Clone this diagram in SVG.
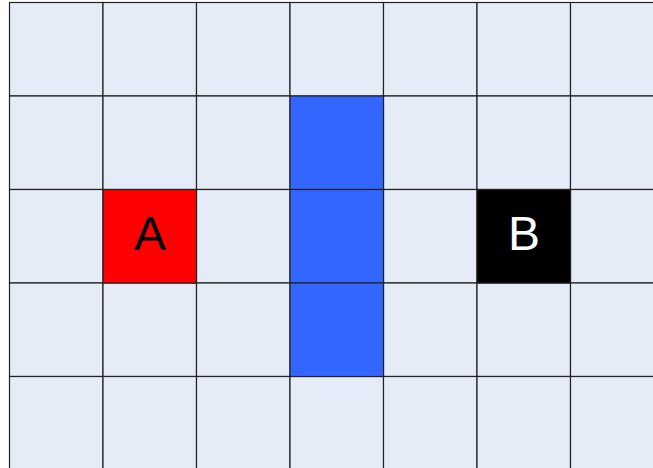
<svg xmlns="http://www.w3.org/2000/svg" width="653" height="468" viewBox="0 0 653 468">
<style>
.c{fill:#E6ECF7;stroke:#222;stroke-width:1.2}
.lbl{font-family:"Liberation Sans",Arial,sans-serif;font-size:48px;text-anchor:middle}
</style>
<rect width="653" height="468" fill="#fff"/>
<g id="grid">
<rect class="c" x="9.5" y="2.5" width="93.5" height="93.5"/>
<rect class="c" x="103" y="2.5" width="93.5" height="93.5"/>
<rect class="c" x="196.5" y="2.5" width="93.5" height="93.5"/>
<rect class="c" x="290" y="2.5" width="93.5" height="93.5"/>
<rect class="c" x="383.5" y="2.5" width="93.5" height="93.5"/>
<rect class="c" x="477" y="2.5" width="93.5" height="93.5"/>
<rect class="c" x="570.5" y="2.5" width="93.5" height="93.5"/>
<rect class="c" x="9.5" y="96" width="93.5" height="93.5"/>
<rect class="c" x="103" y="96" width="93.5" height="93.5"/>
<rect class="c" x="196.5" y="96" width="93.5" height="93.5"/>
<rect class="c" x="383.5" y="96" width="93.5" height="93.5"/>
<rect class="c" x="477" y="96" width="93.5" height="93.5"/>
<rect class="c" x="570.5" y="96" width="93.5" height="93.5"/>
<rect class="c" x="9.5" y="189.5" width="93.5" height="93.5"/>
<rect class="c" x="196.5" y="189.5" width="93.5" height="93.5"/>
<rect class="c" x="383.5" y="189.5" width="93.5" height="93.5"/>
<rect class="c" x="570.5" y="189.5" width="93.5" height="93.5"/>
<rect class="c" x="9.5" y="283" width="93.5" height="93.5"/>
<rect class="c" x="103" y="283" width="93.5" height="93.5"/>
<rect class="c" x="196.5" y="283" width="93.5" height="93.5"/>
<rect class="c" x="383.5" y="283" width="93.5" height="93.5"/>
<rect class="c" x="477" y="283" width="93.5" height="93.5"/>
<rect class="c" x="570.5" y="283" width="93.5" height="93.5"/>
<rect class="c" x="9.5" y="376.5" width="93.5" height="93.5"/>
<rect class="c" x="103" y="376.5" width="93.5" height="93.5"/>
<rect class="c" x="196.5" y="376.5" width="93.5" height="93.5"/>
<rect class="c" x="290" y="376.5" width="93.5" height="93.5"/>
<rect class="c" x="383.5" y="376.5" width="93.5" height="93.5"/>
<rect class="c" x="477" y="376.5" width="93.5" height="93.5"/>
<rect class="c" x="570.5" y="376.5" width="93.5" height="93.5"/>
</g>
<g id="wall">
<rect class="c" x="290" y="96" width="93.5" height="93.5" style="fill:#3366FF"/>
<rect class="c" x="290" y="189.5" width="93.5" height="93.5" style="fill:#3366FF"/>
<rect class="c" x="290" y="283" width="93.5" height="93.5" style="fill:#3366FF"/>
</g>
<g id="A">
<rect class="c" x="103" y="189.5" width="93.5" height="93.5" style="fill:#FF0000"/>
<text class="lbl" x="150" y="250" fill="#000">A</text>
</g>
<g id="B">
<rect class="c" x="477" y="189.5" width="93.5" height="93.5" style="fill:#000"/>
<text class="lbl" x="524" y="250" fill="#fff">B</text>
</g>
<g id="connectors"/>
</svg>
